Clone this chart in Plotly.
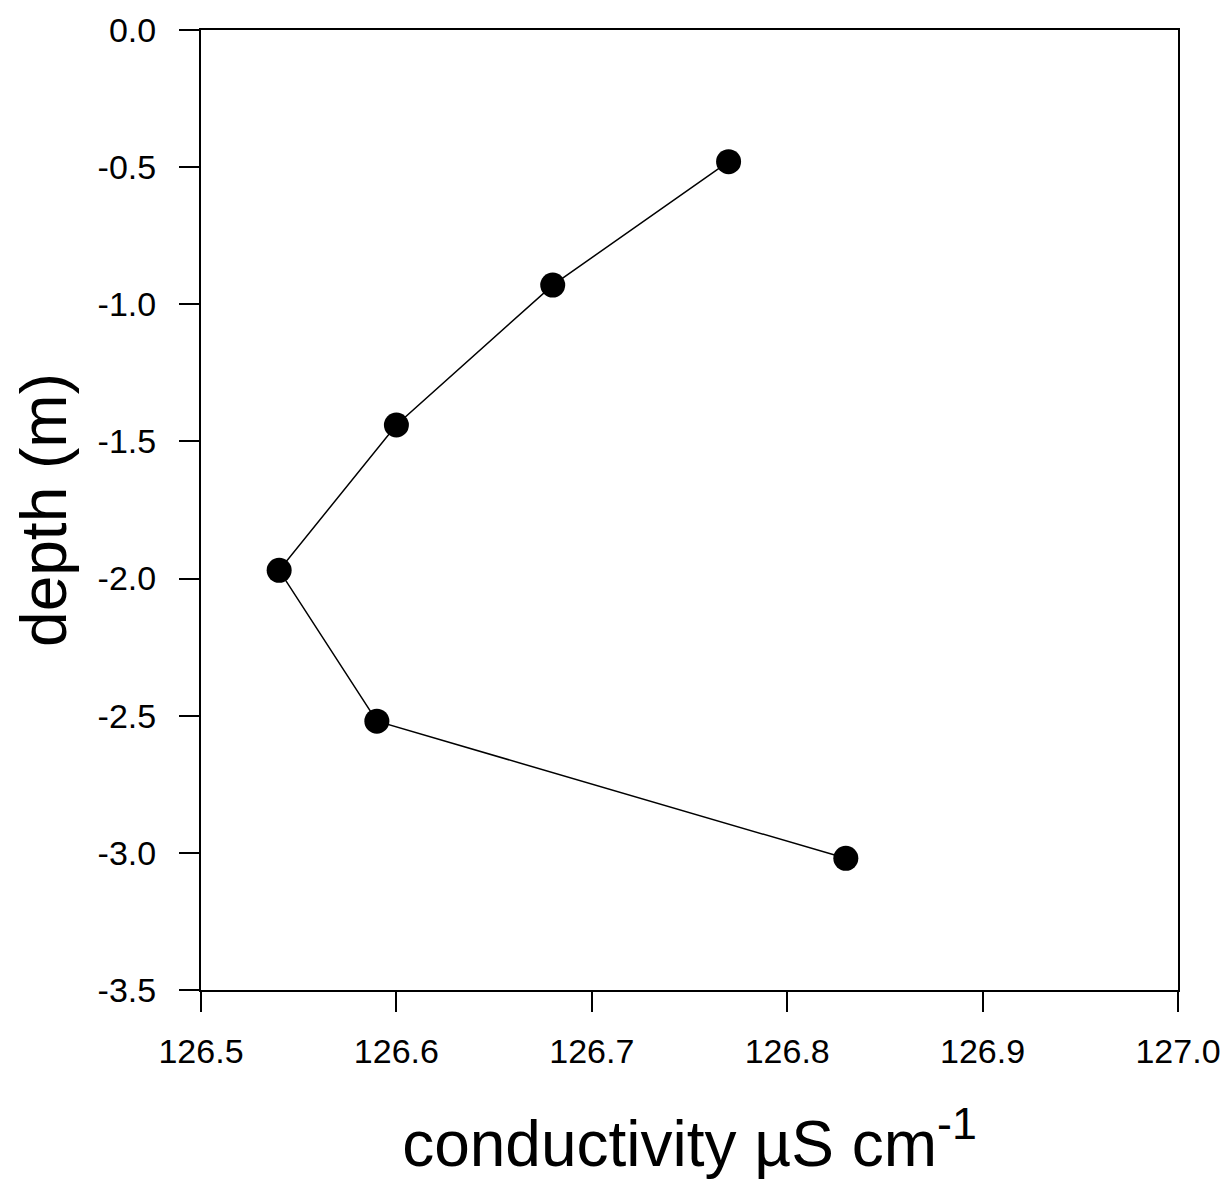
import plotly.graph_objects as go

conductivity = [126.77, 126.68, 126.60, 126.54, 126.59, 126.83]
depth = [-0.48, -0.93, -1.44, -1.97, -2.52, -3.02]

x_ticks = [126.5, 126.6, 126.7, 126.8, 126.9, 127.0]
y_ticks = [0.0, -0.5, -1.0, -1.5, -2.0, -2.5, -3.0, -3.5]

fig = go.Figure()
fig.add_trace(go.Scatter(
    x=conductivity, y=depth, mode="lines+markers",
    line=dict(color="black", width=1.5),
    marker=dict(color="black", size=25),
    showlegend=False,
))

font = "Liberation Sans, Arial, Helvetica, sans-serif"
fig.update_layout(
    width=1232, height=1190,
    margin=dict(l=193, r=62, t=22, b=208, autoexpand=False),
    paper_bgcolor="white", plot_bgcolor="white",
    font=dict(family=font, color="black", size=34),
    xaxis=dict(
        range=[126.5, 127.0], tickvals=x_ticks,
        ticktext=[f"{v:.1f}" for v in x_ticks],
        ticks="outside", ticklen=20, tickwidth=2, tickcolor="black",
        ticklabelstandoff=10,
        showline=True, linecolor="black", linewidth=2, mirror=True,
        showgrid=False, zeroline=False, automargin=False,
        title=dict(text="conductivity µS cm<sup>-1</sup>", font=dict(size=64), standoff=52),
    ),
    yaxis=dict(
        range=[-3.5, 0.0], tickvals=y_ticks,
        ticktext=[f"{v:.1f}" for v in y_ticks],
        ticks="outside", ticklen=20, tickwidth=2, tickcolor="black",
        ticklabelstandoff=16,
        showline=True, linecolor="black", linewidth=2, mirror=True,
        showgrid=False, zeroline=False, automargin=False,
        title=dict(text="depth (m)", font=dict(size=64), standoff=12),
    ),
)

fig.write_html("out.html")
